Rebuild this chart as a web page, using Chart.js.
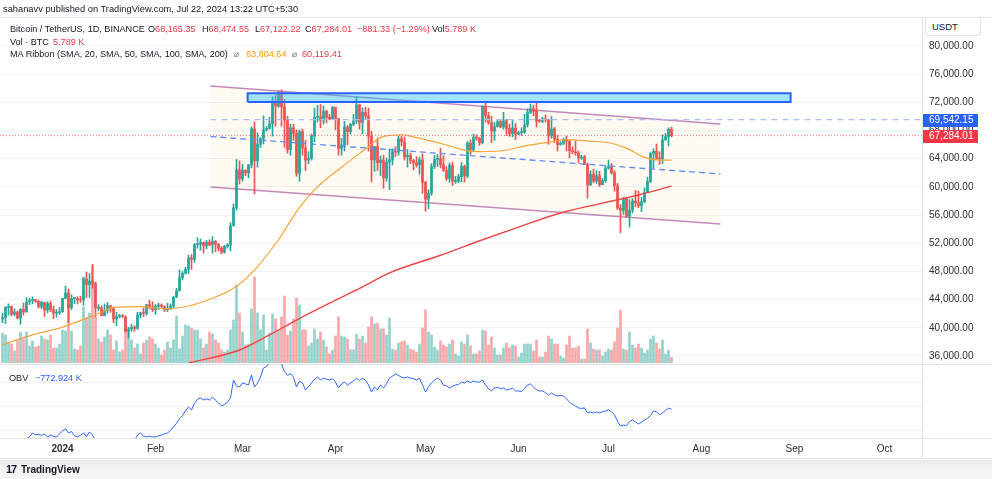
<!DOCTYPE html>
<html>
<head>
<meta charset="utf-8">
<script src="https://cdn.jsdelivr.net/npm/chart.js@4.4.1/dist/chart.umd.min.js"></script>
<style>
  html, body { margin: 0; padding: 0; background: #fff; }
  body { width: 992px; height: 479px; overflow: hidden; position: relative;
         font-family: "Liberation Sans", Arial, sans-serif; color: #131722; }
  #chartBox { position: absolute; left: 0; top: 0; width: 992px; height: 460px; }
  .t { position: absolute; white-space: nowrap; font-size: 9.1px; line-height: 12px; }
  .red { color: #f23645; }
  .org { color: #ff9800; }
  .blu { color: #2962ff; }
  .gry { color: #787b86; }
  #topline { position: absolute; left: 0; top: 17px; width: 992px; height: 1px; background: #e0e3eb; }
  #usdt { position: absolute; left: 925px; top: 18px; width: 56px; height: 18px; border: 1px solid #e0e3eb;
          border-top: none; border-radius: 0 0 4px 4px; font-size: 9.5px; line-height: 18px; padding-left: 6px;
          box-sizing: border-box; background: #fff; }
  #footer { position: absolute; left: 0; top: 460px; width: 992px; height: 19px;
            background: linear-gradient(#e9e9e9, #f4f4f4 40%); }
  #footer .logo { position: absolute; left: 6px; top: 3px; font-weight: bold; font-size: 11px; letter-spacing: -1px; }
  #footer .name { position: absolute; left: 21px; top: 4px; font-size: 10px; font-weight: bold; color: #131722; }
</style>
</head>
<body>
<div id="chartBox"><canvas id="btcChart" width="992" height="460"></canvas></div>
<div id="topline"></div>

<div class="t" style="left:3px;top:3px;font-size:9.3px;">sahanavv published on TradingView.com, Jul 22, 2024 13:22 UTC+5:30</div>
<div class="t" style="left:10px;top:23px;">Bitcoin / TetherUS, 1D, BINANCE</div>
<div class="t" style="left:148px;top:23px;">O<span class="red">68,165.35</span></div>
<div class="t" style="left:202px;top:23px;">H<span class="red">68,474.55</span></div>
<div class="t" style="left:255px;top:23px;">L<span class="red">67,122.22</span></div>
<div class="t" style="left:305px;top:23px;">C<span class="red">67,284.01</span></div>
<div class="t red" style="left:357px;top:23px;">−881.33 (−1.29%)</div>
<div class="t" style="left:432px;top:23px;">Vol<span class="red">5.789 K</span></div>
<div class="t" style="left:10px;top:36px;">Vol · BTC</div>
<div class="t red" style="left:53px;top:36px;">5.789 K</div>
<div class="t" style="left:10px;top:48px;">MA Ribbon (SMA, 20, SMA, 50, SMA, 100, SMA, 200)</div>
<div class="t gry" style="left:234px;top:48px;">⌀</div>
<div class="t org" style="left:246px;top:48px;">63,804.64</div>
<div class="t gry" style="left:292px;top:48px;">⌀</div>
<div class="t red" style="left:302px;top:48px;">60,119.41</div>
<div class="t" style="left:9px;top:372px;">OBV</div>
<div class="t blu" style="left:35px;top:372px;">−772.924 K</div>
<div id="usdt">USDT</div>
<div id="footer"><span class="logo">17</span><span class="name">TradingView</span></div>

<script>
// days counted from Jan 1 2024; first candle is Dec 12 2023
const firstDay = -20;
const firstOpen = 41.24; // Dec 11 close, thousand USDT

// daily closes / highs / lows, thousand USDT (Dec 12 2023 .. Jul 22 2024)
const closes = [
  41.45, 42.89, 43.02, 41.93, 42.24, 41.37, 42.62, 42.27, 43.65, 43.87, 44.00, 43.74, 43.02, 43.61, 42.52, 43.44, 42.58, 42.07, 42.14, 42.28,
  44.18, 44.95, 42.85, 44.15, 44.15, 43.97, 43.93, 46.95, 46.11, 46.63, 46.31, 42.78, 42.85, 41.73, 42.51, 43.14, 42.78, 41.26, 41.62, 41.67, 41.55, 39.51, 39.85, 40.08, 39.93, 41.82, 42.12, 42.04, 43.29, 42.95, 42.58,
  43.08, 43.20, 43.01, 42.58, 42.71, 43.10, 44.35, 45.29, 47.13, 47.75, 48.30, 49.92, 49.70, 51.80, 51.88, 52.12, 51.64, 52.14, 51.77, 52.26, 51.85, 51.29, 50.74, 51.57, 51.73, 54.48, 57.04, 62.43, 61.13,
  62.39, 61.99, 63.11, 68.25, 63.72, 66.07, 66.82, 68.12, 68.31, 68.96, 72.08, 71.45, 73.07, 71.39, 69.50, 65.30, 68.39, 67.61, 61.94, 67.84, 65.50, 63.80, 64.04, 67.21, 69.88, 69.99, 69.46, 70.74, 69.89, 69.65, 71.33,
  69.70, 65.45, 65.98, 68.51, 67.84, 68.90, 69.36, 71.63, 69.14, 70.59, 70.06, 67.20, 63.82, 65.74, 63.43, 63.81, 61.28, 63.51, 63.84, 64.99, 64.93, 66.84, 66.41, 64.28, 64.48, 63.76, 63.42, 63.11, 63.84, 60.64,
  58.25, 59.12, 62.89, 63.89, 64.03, 63.16, 62.33, 61.19, 63.05, 60.79, 60.79, 61.45, 62.90, 61.55, 66.21, 65.24, 67.02, 66.92, 66.27, 71.45, 70.14, 69.12, 67.93, 68.53, 69.27, 68.52, 69.39, 68.30, 67.58, 68.36, 67.49,
  67.71, 67.75, 68.80, 70.57, 71.08, 70.76, 69.34, 69.31, 69.65, 69.51, 67.33, 68.24, 66.76, 66.01, 66.19, 66.64, 66.49, 65.14, 64.96, 64.83, 64.10, 64.25, 63.18, 60.28, 61.80, 60.81, 61.60, 60.32, 60.89, 62.68,
  62.85, 62.03, 60.17, 56.98, 56.66, 58.30, 55.85, 56.71, 58.01, 57.74, 57.34, 57.90, 59.21, 60.80, 64.72, 65.04, 64.09, 63.99, 66.66, 67.14, 68.17, 67.28
];
const highs = [
  42.10, 43.00, 43.40, 43.10, 42.70, 42.40, 42.75, 43.50, 44.30, 44.20, 44.40, 44.00, 43.95, 43.80, 43.60, 43.70, 43.80, 43.10, 42.60, 42.90,
  44.20, 45.90, 45.50, 44.70, 44.30, 44.40, 44.50, 47.20, 47.90, 47.70, 49.00, 46.50, 43.30, 43.10, 43.40, 43.60, 43.20, 42.90, 42.20, 41.90, 41.90, 41.70, 40.10, 40.50, 40.30, 42.20, 42.20, 42.80, 43.30, 43.90, 43.70,
  43.30, 43.50, 43.40, 43.10, 43.50, 43.40, 44.50, 45.60, 48.20, 48.00, 48.60, 50.30, 50.40, 52.00, 52.80, 52.60, 52.20, 52.40, 52.50, 52.95, 52.40, 52.00, 51.55, 51.70, 51.95, 54.90, 57.60, 63.90, 63.70,
  63.20, 62.40, 63.20, 68.50, 69.20, 67.70, 67.00, 70.10, 68.60, 69.90, 72.80, 73.00, 73.65, 73.78, 72.40, 70.00, 68.90, 68.90, 68.10, 68.10, 68.20, 66.60, 65.00, 67.50, 71.15, 71.60, 71.70, 71.50, 70.90, 70.30, 71.40,
  71.30, 69.70, 66.90, 69.30, 68.70, 69.00, 70.30, 72.80, 71.75, 71.20, 71.30, 71.20, 67.90, 65.80, 66.90, 64.40, 64.50, 64.10, 65.40, 65.40, 65.70, 67.20, 67.20, 67.10, 65.30, 64.80, 63.90, 64.30, 64.20, 64.70,
  60.80, 59.60, 63.30, 64.50, 64.60, 65.50, 64.40, 62.90, 63.40, 63.50, 61.50, 61.80, 63.45, 63.10, 66.45, 66.70, 67.50, 67.40, 67.00, 71.50, 71.96, 70.60, 70.00, 69.20, 69.50, 69.50, 70.60, 69.60, 68.90, 69.50, 69.00,
  67.90, 68.40, 70.30, 71.10, 71.76, 71.60, 72.00, 69.60, 69.90, 70.20, 69.60, 70.00, 68.45, 67.30, 66.40, 66.90, 67.20, 66.60, 65.70, 66.50, 65.10, 64.50, 64.50, 63.40, 62.30, 62.50, 62.30, 62.20, 61.20, 63.00,
  63.80, 63.30, 62.30, 60.50, 57.50, 58.50, 58.40, 58.20, 58.30, 59.50, 59.40, 58.50, 59.85, 61.40, 64.90, 65.40, 66.10, 65.00, 67.40, 67.60, 68.40, 68.47
];
const lows = [
  40.70, 40.60, 41.80, 41.70, 41.70, 41.25, 40.50, 41.80, 42.20, 43.30, 43.40, 43.60, 42.80, 42.70, 41.60, 42.10, 42.30, 41.30, 41.50, 41.90,
  42.20, 44.15, 40.75, 42.60, 43.40, 43.40, 43.60, 43.20, 44.30, 44.30, 45.60, 41.50, 42.40, 41.70, 41.70, 42.05, 42.20, 40.70, 40.30, 41.40, 41.50, 39.40, 38.55, 39.50, 39.50, 39.80, 41.40, 41.60, 41.80, 42.70, 42.30,
  41.90, 42.60, 42.90, 42.30, 42.30, 42.60, 42.80, 44.30, 45.20, 46.80, 47.60, 47.70, 48.30, 49.30, 51.30, 51.00, 50.60, 51.20, 51.60, 50.60, 50.80, 50.90, 50.50, 50.60, 51.30, 50.90, 54.45, 56.70, 60.40,
  60.80, 61.60, 61.30, 62.70, 59.00, 62.80, 65.60, 66.10, 67.90, 68.20, 67.20, 68.60, 71.30, 68.60, 65.60, 64.80, 64.50, 66.60, 61.50, 60.80, 64.50, 62.30, 63.30, 63.80, 66.40, 69.20, 68.40, 68.90, 69.10, 69.50, 69.60,
  68.10, 64.50, 64.50, 65.10, 66.00, 67.50, 68.70, 69.00, 68.20, 67.50, 69.60, 65.10, 60.70, 62.20, 62.30, 61.60, 59.80, 60.80, 59.60, 63.10, 64.30, 64.50, 65.80, 63.80, 62.80, 63.30, 62.40, 62.80, 61.80, 59.10,
  56.55, 56.90, 58.80, 62.60, 62.90, 62.70, 62.20, 60.90, 60.65, 60.20, 60.50, 60.60, 60.75, 60.70, 61.30, 64.60, 65.10, 66.60, 65.90, 66.10, 69.20, 68.90, 66.30, 66.60, 68.50, 68.40, 68.20, 67.30, 67.20, 67.10, 66.70,
  67.40, 67.30, 67.60, 68.50, 70.40, 70.10, 68.50, 69.20, 69.10, 69.20, 66.05, 66.90, 66.30, 65.10, 65.90, 66.00, 65.10, 64.10, 64.70, 64.50, 63.40, 63.90, 63.20, 58.40, 60.20, 60.60, 60.50, 60.05, 60.30, 60.65,
  62.50, 61.80, 59.40, 56.80, 53.49, 56.10, 55.70, 54.30, 56.30, 57.20, 57.05, 56.50, 57.75, 59.20, 60.60, 62.70, 63.90, 63.20, 63.30, 66.65, 65.80, 67.12
];
// daily volume, thousand BTC
const volumes = [
  30, 28, 21, 19, 12, 22, 31, 24, 31, 17, 22, 16, 17, 27, 24, 23, 28, 15, 15, 19,
  33, 32, 58, 32, 14, 13, 17, 56, 45, 50, 97, 45, 24, 21, 26, 33, 28, 13, 22, 11, 13, 44, 31, 23, 15, 19, 9, 20, 23, 26, 24,
  19, 15, 8, 13, 21, 15, 23, 47, 14, 27, 38, 37, 35, 33, 33, 24, 15, 19, 31, 29, 23, 20, 13, 11, 13, 33, 43, 78, 50,
  31, 18, 19, 54, 86, 50, 33, 48, 13, 30, 49, 44, 33, 46, 67, 28, 32, 44, 65, 58, 33, 33, 17, 20, 34, 24, 31, 23, 16, 9, 13,
  27, 46, 27, 26, 24, 13, 13, 29, 24, 27, 20, 36, 46, 39, 40, 34, 34, 28, 45, 14, 13, 20, 21, 22, 18, 14, 13, 11, 19, 35,
  53, 31, 28, 16, 13, 22, 18, 16, 19, 23, 9, 7, 21, 19, 28, 17, 9, 9, 12, 33, 32, 18, 26, 15, 8, 8, 15, 20, 15, 18, 17,
  6, 10, 19, 19, 19, 12, 23, 6, 6, 11, 27, 24, 19, 19, 7, 5, 18, 27, 15, 15, 17, 4, 4, 34, 20, 14, 13, 13, 7, 11,
  14, 13, 21, 35, 53, 14, 13, 31, 18, 15, 19, 15, 10, 13, 24, 27, 20, 14, 23, 9, 13, 5.8
];
// on balance volume, thousand
const obv = [
  -1120, -1110, -1125, -1115, -1105, -1120, -1100, -1090, -1080, -1060, -1021, -1040, -1035, -1045, -1030, -1062, -1042, -1055, -1065, -1030,
  -1000, -979, -1021, -1005, -1050, -1060, -1045, -1021, -1060, -1010, -1042, -1100, -1110, -1090, -1120, -1100, -1110, -1095, -1120, -1115,
  -1110, -1150, -1170, -1140, -1100, -1042, -1021, -1052, -1062, -1055, -1060, -1062, -1050, -1042, -1030, -1021, -995, -958, -920, -870,
  -840, -790, -750, -781, -710, -670, -656, -677, -665, -677, -646, -680, -708, -740, -725, -700, -656, -469, -530, -542,
  -500, -510, -521, -417, -542, -500, -440, -344, -330, -280, -220, -260, -220, -300, -380, -420, -400, -440, -542, -480,
  -500, -573, -540, -500, -460, -437, -469, -450, -460, -469, -455, -490, -552, -510, -490, -521, -500, -480, -448, -475,
  -450, -470, -520, -594, -540, -573, -521, -552, -510, -448, -430, -406, -420, -440, -448, -437, -448, -455, -469, -450,
  -520, -594, -540, -500, -470, -448, -469, -521, -530, -552, -535, -521, -515, -490, -500, -480, -495, -480, -490, -490,
  -469, -521, -560, -583, -552, -545, -560, -552, -573, -565, -552, -583, -583, -590, -560, -520, -510, -540, -573, -583,
  -583, -600, -625, -604, -625, -635, -630, -635, -665, -700, -720, -740, -760, -765, -760, -812, -802, -812, -800, -812,
  -800, -792, -780, -800, -830, -900, -948, -938, -945, -900, -885, -905, -927, -910, -885, -870, -840, -792, -800, -830,
  -812, -785, -763, -772.9
];

// moving averages at these days
const sma50Days = [-20, -10, 0, 13, 17, 26, 35, 42, 50, 57, 64, 72, 79, 85, 93, 102, 106, 113, 117, 124, 130, 137, 146, 155, 163, 168, 176, 183, 188, 194, 198, 203];
const sma50 = [37.6, 39.0, 40.1, 42.2, 42.9, 43.0, 42.7, 43.1, 44.2, 45.6, 48.2, 52.5, 57.1, 60.0, 62.8, 65.7, 67.0, 67.4, 67.1, 66.4, 65.7, 65.0, 65.1, 65.9, 66.4, 66.7, 66.5, 66.2, 65.5, 64.2, 63.85, 63.80];
const sma200Days = [42, 59, 69, 78, 89, 100, 109, 126, 140, 152, 166, 180, 192, 203];
const sma200 = [35.0, 36.85, 39.0, 41.1, 43.5, 45.8, 47.8, 50.3, 52.5, 54.3, 56.3, 57.7, 58.85, 60.12];

// drawings: parallel channel, resistance box, level lines
const channelDays = [49.3, 219.3];
const channelUpper = [74.32, 68.93];
const channelMid = [67.15, 61.83];
const channelLower = [59.99, 54.73];
const boxDays = [61.7, 242.7];
const boxPrices = [72.05, 73.29];
const levelLine = 69.54215;
const lastPrice = 67.28401;

const priceTicks = [36, 40, 44, 48, 52, 56, 60, 64, 68, 72, 76, 80];
const obvTicks = [-500, -750, -1000];
const obvTickLabels = ['−500\u202FK', '−750\u202FK', '−1\u202FM'];
const monthDays = [0, 31, 60, 91, 121, 152, 182, 213, 244, 274];
const monthLabels = ['2024', 'Feb', 'Mar', 'Apr', 'May', 'Jun', 'Jul', 'Aug', 'Sep', 'Oct'];

document.addEventListener('DOMContentLoaded', () => {
  const UP = '#26a69a', DOWN = '#ef5350';
  const X_MIN = -20.8333, X_MAX = 286.5;
  const mainClip = { left: 0, top: 0, right: 0, bottom: -75 };   // price pane ends above OBV pane
  const obvClip = { left: 0, top: -346, right: 0, bottom: 0 };

  const days = closes.map((_, i) => firstDay + i);
  const opens = [firstOpen].concat(closes.slice(0, -1));
  const isUp = closes.map((c, i) => c >= opens[i]);

  const pts = (xs, ys) => xs.map((x, i) => ({ x, y: ys[i] }));

  const datasets = [
    // channel (background)
    { type: 'line', data: pts(channelDays, channelUpper), borderColor: 'rgba(156,60,140,0.6)', borderWidth: 1.5,
      pointRadius: 0, order: 20, clip: mainClip },
    { type: 'line', data: pts(channelDays, channelLower), borderColor: 'rgba(156,60,140,0.6)', borderWidth: 1.5,
      pointRadius: 0, fill: '-1', backgroundColor: 'rgba(255,152,0,0.05)', order: 21, clip: mainClip },
    { type: 'line', data: pts(channelDays, channelMid), borderColor: '#5b8cf2', borderWidth: 1.3, borderDash: [6, 4],
      pointRadius: 0, order: 2, clip: mainClip },
    // volume
    { type: 'bar', yAxisID: 'vol', data: days.map((d, i) => ({ x: d, y: volumes[i] })),
      backgroundColor: isUp.map(u => u ? 'rgba(38,166,154,0.5)' : 'rgba(239,83,80,0.5)'),
      barThickness: 2, grouped: false, order: 15, clip: mainClip },
    // candles
    { type: 'bar', data: days.map((d, i) => ({ x: d, y: [lows[i], highs[i]] })),
      backgroundColor: isUp.map(u => u ? UP : DOWN), barThickness: 1, grouped: false, order: 6, clip: mainClip },
    { type: 'bar', data: days.map((d, i) => ({ x: d, y: [opens[i], closes[i]] })),
      backgroundColor: isUp.map(u => u ? UP : DOWN), barThickness: 2, minBarLength: 1, grouped: false, order: 5, clip: mainClip },
    // moving averages
    { type: 'line', data: pts(sma50Days, sma50), borderColor: '#f9a43c', borderWidth: 1.2, pointRadius: 0,
      cubicInterpolationMode: 'monotone', order: 4, clip: mainClip },
    { type: 'line', data: pts(sma200Days, sma200), borderColor: '#ef4646', borderWidth: 1.4, pointRadius: 0,
      cubicInterpolationMode: 'monotone', order: 4, clip: mainClip },
    // resistance box
    { type: 'line', data: [
        { x: boxDays[0], y: boxPrices[0] }, { x: boxDays[0], y: boxPrices[1] },
        { x: boxDays[1], y: boxPrices[1] }, { x: boxDays[1], y: boxPrices[0] }, { x: boxDays[0], y: boxPrices[0] }],
      borderColor: '#2962ff', borderWidth: 2, backgroundColor: 'rgba(33,190,240,0.42)', fill: 'shape',
      pointRadius: 0, order: 1, clip: mainClip },
    // levels
    { type: 'line', data: pts([channelDays[0], X_MAX], [levelLine, levelLine]), borderColor: '#a8bff5', borderWidth: 1.3,
      borderDash: [6, 5], pointRadius: 0, order: 3, clip: mainClip },
    { type: 'line', data: pts([X_MIN, X_MAX], [lastPrice, lastPrice]), borderColor: 'rgba(242,54,69,0.7)', borderWidth: 1,
      borderDash: [1, 2], pointRadius: 0, order: 3, clip: mainClip },
    // OBV
    { type: 'line', yAxisID: 'obv', data: days.map((d, i) => ({ x: d, y: obv[i] })), borderColor: '#2f66f5',
      borderWidth: 1, pointRadius: 0, order: 1, clip: obvClip }
  ];

  const panes = {
    id: 'panes',
    beforeDatasetsDraw(chart) {
      const { ctx, chartArea: a } = chart;
      ctx.save();
      ctx.strokeStyle = '#e0e3eb';
      ctx.lineWidth = 1;
      ctx.beginPath();
      ctx.moveTo(0, 364.5); ctx.lineTo(992, 364.5);
      ctx.moveTo(0, a.bottom + 0.5); ctx.lineTo(992, a.bottom + 0.5);
      ctx.moveTo(0, 458.5); ctx.lineTo(992, 458.5);
      ctx.moveTo(a.right + 0.5, a.top); ctx.lineTo(a.right + 0.5, 459);
      ctx.stroke();
      ctx.restore();
    },
    afterDraw(chart) {
      const { ctx, chartArea: a } = chart;
      const y = chart.scales.y;
      const tags = [[levelLine, '#2962ff'], [lastPrice, '#f23645']];
      ctx.save();
      ctx.font = '10px "Liberation Sans", Arial, sans-serif';
      ctx.textBaseline = 'middle';
      tags.forEach(([v, col]) => {
        const py = Math.round(y.getPixelForValue(v));
        ctx.fillStyle = col;
        ctx.fillRect(a.right + 1, py - 6, 55, 13);
        ctx.fillStyle = '#fff';
        ctx.fillText((v * 1000).toLocaleString('en-US', { minimumFractionDigits: 2, maximumFractionDigits: 2 }),
          a.right + 7, py + 0.5);
      });
      ctx.restore();
    }
  };

  Chart.defaults.font.family = '"Liberation Sans", Arial, sans-serif';
  Chart.defaults.color = '#2a2e39';

  new Chart(document.getElementById('btcChart'), {
    type: 'bar',
    data: { datasets },
    plugins: [panes],
    options: {
      responsive: false,
      animation: false,
      devicePixelRatio: 1,
      events: [],
      layout: { padding: { top: 18, left: 0, right: 0, bottom: 0 } },
      plugins: { legend: { display: false }, tooltip: { enabled: false } },
      scales: {
        x: {
          type: 'linear', min: X_MIN, max: X_MAX, offset: false,
          grid: { display: false, drawTicks: false }, border: { display: false },
          afterBuildTicks: s => { s.ticks = monthDays.map(v => ({ value: v })); },
          afterFit: s => { s.height = 22; },
          ticks: {
            padding: 5, maxRotation: 0, autoSkip: false,
            font: c => ({ size: 10, weight: c.tick && c.tick.value === 0 ? 'bold' : 'normal' }),
            callback: v => monthLabels[monthDays.indexOf(v)]
          }
        },
        y: {
          position: 'right', weight: 1, min: 24.361, max: 83.974,
          grid: { color: '#f0f3fa', drawTicks: false }, border: { display: false },
          afterBuildTicks: s => { s.ticks = priceTicks.map(v => ({ value: v })); },
          afterFit: s => { s.width = 70; },
          ticks: {
            padding: 7, font: { size: 10 },
            callback: v => (v * 1000).toLocaleString('en-US', { minimumFractionDigits: 2 })
          }
        },
        obv: {
          position: 'right', weight: 0, min: -1073, max: 3302,
          grid: { color: '#f0f3fa', drawTicks: false }, border: { display: false },
          afterBuildTicks: s => { s.ticks = obvTicks.map(v => ({ value: v })); },
          afterFit: s => { s.width = 0; },
          ticks: { padding: 7, font: { size: 10 }, callback: v => obvTickLabels[obvTicks.indexOf(v)] }
        },
        vol: { display: false, min: -75, max: 345 }
      }
    }
  });
});
</script>
</body>
</html>
